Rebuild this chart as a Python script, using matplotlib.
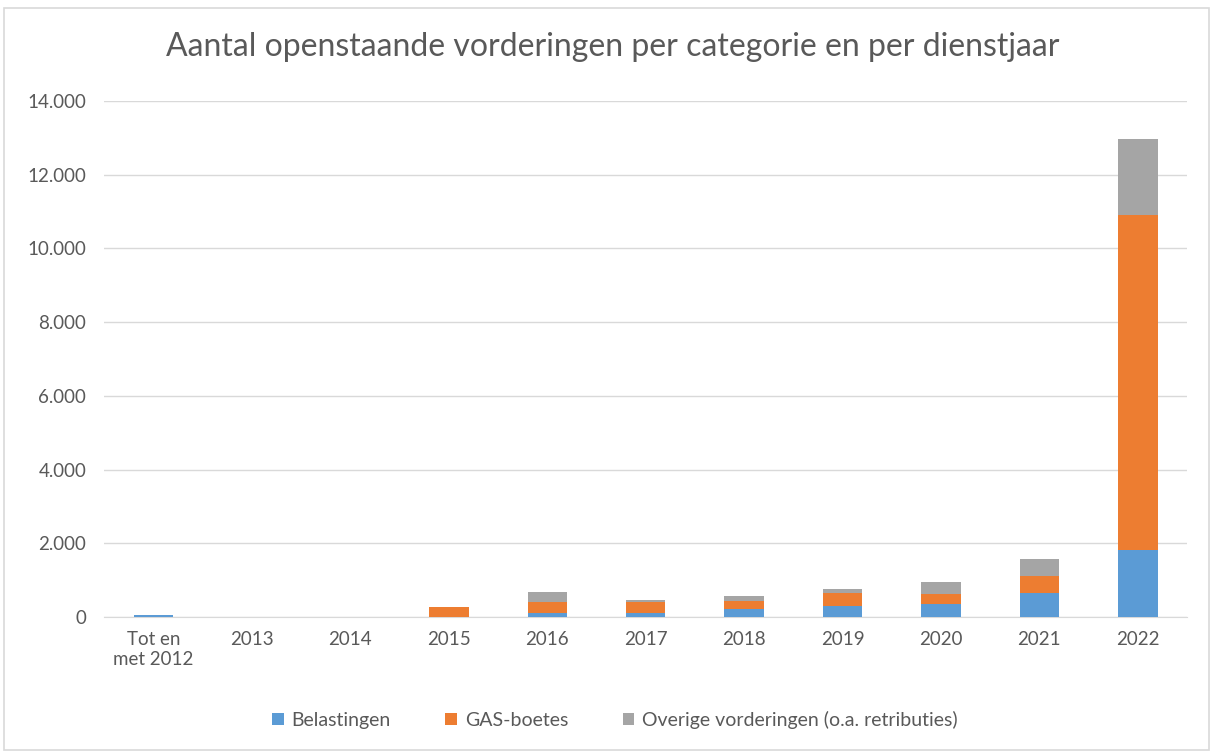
import numpy as np
import matplotlib.pyplot as plt
from matplotlib.patches import Rectangle
from matplotlib.ticker import FuncFormatter

plt.rcParams['font.family'] = ['Lato', 'DejaVu Sans']

jaren = ["Tot en\nmet 2012", "2013", "2014", "2015", "2016", "2017",
         "2018", "2019", "2020", "2021", "2022"]
belastingen = [60, 0, 0, 0, 110, 110, 210, 305, 360, 660, 1825]
gas_boetes = [0, 0, 0, 260, 305, 290, 230, 355, 255, 460, 9080]
overige = [0, 0, 0, 0, 255, 55, 120, 100, 345, 445, 2065]

blauw = "#5B9BD5"
oranje = "#ED7D31"
grijs = "#A5A5A5"
tekst = "#595959"

fig = plt.figure(figsize=(12.13, 7.54), dpi=100)
fig.patches.append(Rectangle((0.003, 0.005), 0.994, 0.984, transform=fig.transFigure,
                             fill=False, edgecolor="#D9D9D9", linewidth=1.2))
ax = fig.add_axes([0.086, 0.1817, 0.8926, 0.6843])

x = np.arange(len(jaren))
b = np.array(belastingen)
g = np.array(gas_boetes)
o = np.array(overige)
w = 0.4
ax.bar(x, b, width=w, color=blauw, label="Belastingen", zorder=3)
ax.bar(x, g, width=w, bottom=b, color=oranje, label="GAS-boetes", zorder=3)
ax.bar(x, o, width=w, bottom=b + g, color=grijs,
       label="Overige vorderingen (o.a. retributies)", zorder=3)

ax.set_xlim(-0.5, 10.5)
ax.set_ylim(0, 14000)
ax.set_yticks(np.arange(0, 14001, 2000))
ax.yaxis.set_major_formatter(FuncFormatter(lambda v, p: f"{int(v):,}".replace(",", ".")))
ax.set_xticks(x)
ax.set_xticklabels(jaren)
ax.grid(axis="y", color="#D9D9D9", linewidth=1, zorder=0)
for s in ["top", "right", "left"]:
    ax.spines[s].set_visible(False)
ax.spines["bottom"].set_color("#D9D9D9")
ax.tick_params(axis="both", length=0, colors=tekst, labelsize=13.5)
ax.tick_params(axis="x", pad=10)
ax.tick_params(axis="y", pad=13)

fig.text(0.505, 0.938, "Aantal openstaande vorderingen per categorie en per dienstjaar",
         ha="center", va="center", fontsize=23, color=tekst)

fig.legend(loc="center", bbox_to_anchor=(0.507, 0.045), ncol=3, frameon=False,
           fontsize=14, handlelength=0.6, handleheight=0.6, columnspacing=2.8,
           handletextpad=0.4, labelcolor=tekst)

fig.savefig("out.png", dpi=100)
